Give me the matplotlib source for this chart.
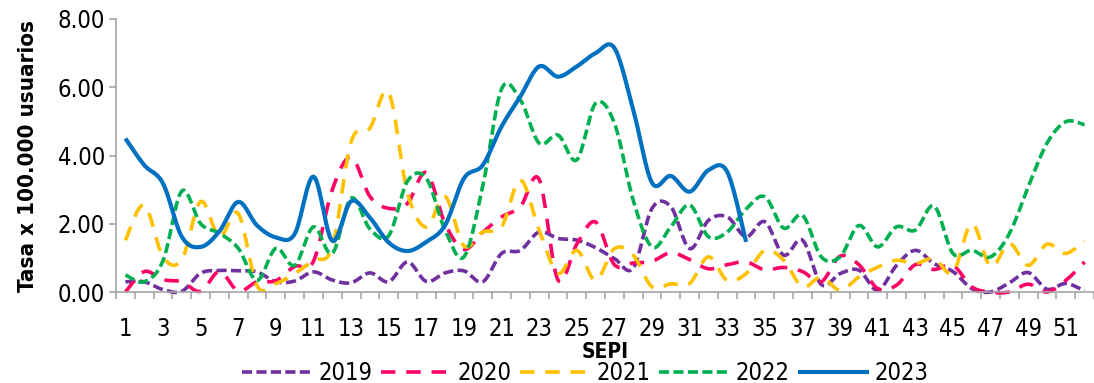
import numpy as np
import matplotlib
matplotlib.use("Agg")
import matplotlib.pyplot as plt

plt.rcParams['font.family'] = ['DejaVu Sans']
plt.rcParams['font.stretch'] = 'condensed'

weeks = list(range(1, 53))
y2019 = [0.30, 0.30, 0.07, 0.02, 0.55, 0.63, 0.62, 0.59, 0.30, 0.32, 0.59, 0.35, 0.27, 0.56,
         0.30, 0.88, 0.31, 0.56, 0.62, 0.30, 1.13, 1.22, 1.76, 1.57, 1.52, 1.30, 0.98, 0.70,
         2.45, 2.50, 1.27, 2.10, 2.20, 1.62, 2.06, 1.08, 1.52, 0.22, 0.54, 0.64, 0.05, 0.78,
         1.22, 0.83, 0.60, 0.10, 0.00, 0.27, 0.57, 0.08, 0.25, 0.03]
y2020 = [0.00, 0.60, 0.36, 0.30, 0.02, 0.60, 0.03, 0.30, 0.33, 0.75, 0.90, 3.00, 3.95, 2.80,
         2.45, 2.60, 3.50, 2.00, 1.25, 1.75, 2.20, 2.50, 3.30, 0.35, 1.40, 2.05, 0.80, 0.85,
         0.90, 1.15, 0.95, 0.68, 0.80, 0.88, 0.65, 0.72, 0.60, 0.30, 1.05, 0.80, 0.10, 0.20,
         0.80, 0.66, 0.78, 0.15, 0.00, 0.00, 0.23, 0.00, 0.34, 0.88]
y2021 = [1.52, 2.55, 1.03, 0.95, 2.65, 1.62, 2.30, 0.18, 0.25, 0.54, 0.93, 1.32, 4.40, 4.80,
         5.85, 2.90, 1.90, 2.80, 1.35, 1.76, 1.91, 3.28, 1.81, 0.55, 1.22, 0.34, 1.27, 1.08,
         0.15, 0.24, 0.25, 1.03, 0.34, 0.54, 1.22, 0.93, 0.15, 0.44, 0.05, 0.44, 0.73, 0.93,
         0.83, 0.98, 0.57, 2.00, 0.75, 1.42, 0.78, 1.40, 1.13, 1.50]
y2022 = [0.50, 0.30, 0.92, 2.96, 2.00, 1.72, 1.28, 0.34, 1.28, 0.78, 1.91, 1.13, 2.75, 1.85,
         1.65, 3.25, 3.33, 1.81, 1.03, 3.10, 5.95, 5.63, 4.36, 4.60, 3.87, 5.53, 4.95, 2.69,
         1.32, 1.91, 2.55, 1.62, 1.76, 2.43, 2.79, 1.87, 2.25, 1.03, 1.03, 1.95, 1.32, 1.91,
         1.81, 2.52, 1.13, 1.22, 1.03, 1.71, 3.08, 4.36, 4.99, 4.90]
y2023 = [4.50, 3.72, 3.18, 1.62, 1.32, 1.78, 2.64, 1.95, 1.60, 1.70, 3.38, 1.50, 2.66, 2.18,
         1.45, 1.20, 1.47, 1.96, 3.33, 3.72, 4.85, 5.73, 6.61, 6.31, 6.61, 7.00, 7.15, 5.34,
         3.20, 3.40, 2.94, 3.57, 3.52, 1.47]

series_labels = ['2019', '2020', '2021', '2022', '2023']
series_values = [y2019, y2020, y2021, y2022, y2023]
colors = ['#7030A0', '#FF0066', '#FFC000', '#00B050', '#0070C0']
dashes = [(2.8, 1.2), (4.0, 3.0), (4.0, 3.0), (2.8, 1.2), None]
widths = [2.6, 2.6, 2.6, 2.6, 3.0]


def smooth(x, y, n=16):
    """Excel-like smoothed line (Bezier through the points)."""
    x = np.asarray(x, float)
    y = np.asarray(y, float)
    m = len(x)
    P = np.column_stack([x, y])
    out = [P[0]]
    t = np.linspace(0, 1, n + 1)[1:]
    for i in range(m - 1):
        p0 = P[i - 1] if i > 0 else P[i]
        p1 = P[i]
        p2 = P[i + 1]
        p3 = P[i + 2] if i + 2 < m else P[i + 1]
        c1 = p1 + (p2 - p0) / 6.0
        c2 = p2 - (p3 - p1) / 6.0
        for tt in t:
            b = ((1 - tt) ** 3) * p1 + 3 * ((1 - tt) ** 2) * tt * c1 + 3 * (1 - tt) * tt ** 2 * c2 + tt ** 3 * p2
            out.append(b)
    out = np.array(out)
    return out[:, 0], out[:, 1]


fig = plt.figure(figsize=(10.94, 3.83), dpi=100)
ax = fig.add_axes([116 / 1094, 1 - 292 / 383, 1 - 116 / 1094, (292 - 19) / 383])

for lab, vals, c, d, w in zip(series_labels, series_values, colors, dashes, widths):
    xs, ys = smooth(weeks[:len(vals)], vals)
    line, = ax.plot(xs, ys, color=c, lw=w, label=lab, solid_capstyle='butt',
                    dash_capstyle='butt', clip_on=False)
    if d is not None:
        line.set_dashes(d)

ax.set_xlim(0.5, 52.5)
ax.set_ylim(0, 8)
ax.set_yticks([0, 2, 4, 6, 8])
ax.set_yticklabels(['%.2f' % v for v in [0, 2, 4, 6, 8]])
ax.set_xticks(weeks[::2])
ax.set_xticklabels([str(w) for w in weeks[::2]])
ax.set_xticks(np.arange(0.5, 53, 1.0), minor=True)

grey = '#A6A6A6'
for s in ['top', 'right']:
    ax.spines[s].set_visible(False)
for s in ['left', 'bottom']:
    ax.spines[s].set_color(grey)
    ax.spines[s].set_linewidth(1.2)

ax.tick_params(axis='x', which='major', length=0, pad=18, labelsize=17)
ax.tick_params(axis='x', which='minor', length=5, width=1.2, color=grey, direction='out')
ax.tick_params(axis='y', which='major', length=5, width=1.2, color=grey, labelsize=17, pad=3)

ax.set_xlabel('SEPI', fontsize=15, fontweight='bold', labelpad=1)
ax.set_ylabel('Tasa x 100.000 usuarios', fontsize=16, fontweight='bold', labelpad=14)

leg = fig.legend(loc='center', bbox_to_anchor=(0.535, 1 - 373 / 383), ncol=5, frameon=False,
                 fontsize=17, handlelength=3.0, columnspacing=0.35, handletextpad=0.25,
                 borderaxespad=0)

fig.savefig('out.png', dpi=100)
